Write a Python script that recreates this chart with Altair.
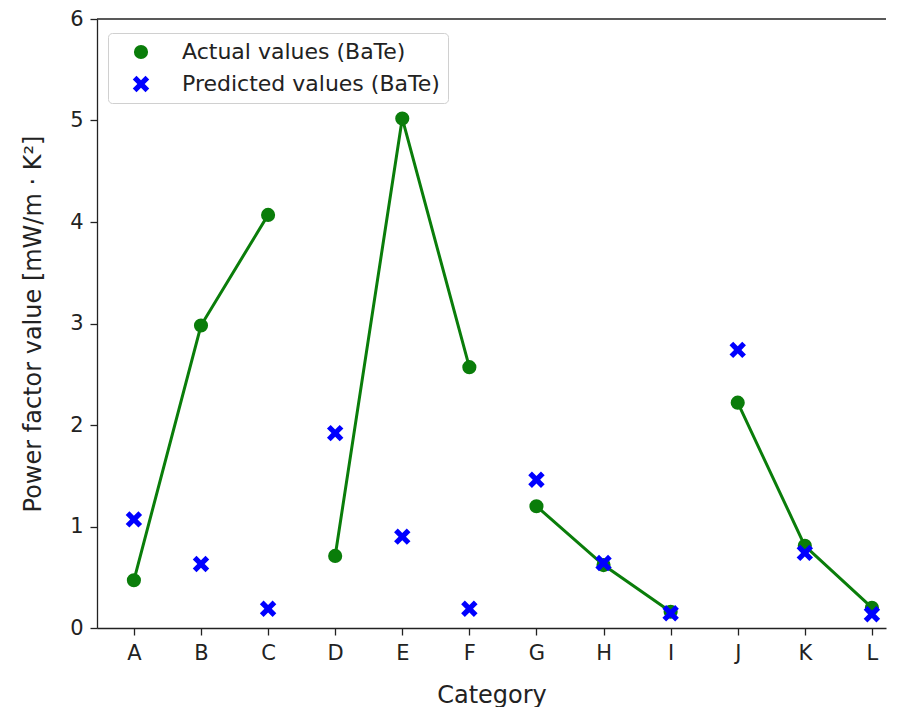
import altair as alt
import pandas as pd

categories = ["A", "B", "C", "D", "E", "F", "G", "H", "I", "J", "K", "L"]
actual = [0.47, 2.98, 4.07, 0.71, 5.02, 2.57, 1.20, 0.62, 0.16, 2.22, 0.81, 0.20]
predicted = [1.07, 0.63, 0.19, 1.92, 0.90, 0.19, 1.46, 0.64, 0.145, 2.74, 0.74, 0.135]
groups = ["g1", "g1", "g1", "g2", "g2", "g2", "g3", "g3", "g3", "g4", "g4", "g4"]

S_ACT = "Actual values (BaTe)"
S_PRED = "Predicted values (BaTe)"

line_df = pd.DataFrame({"idx": range(len(categories)), "cat": categories,
                        "value": actual, "grp": groups})
pts_df = pd.concat([
    pd.DataFrame({"idx": range(len(categories)), "value": actual, "series": S_ACT}),
    pd.DataFrame({"idx": range(len(categories)), "value": predicted, "series": S_PRED}),
])

X_PATH = ("M -1,-0.55 L -0.55,-1 L 0,-0.45 L 0.55,-1 L 1,-0.55 L 0.45,0 "
          "L 1,0.55 L 0.55,1 L 0,0.45 L -0.55,1 L -1,0.55 L -0.45,0 Z")

label_expr = "[" + ",".join(f"'{c}'" for c in categories) + "][datum.value]"

x_enc = alt.X("idx:Q",
              scale=alt.Scale(domain=[-0.55, 11.21], nice=False, zero=False),
              axis=alt.Axis(title="Category", values=list(range(12)),
                            labelExpr=label_expr, grid=False))
y_enc = alt.Y("value:Q",
              scale=alt.Scale(domain=[0, 6], nice=False),
              axis=alt.Axis(title="Power factor value [mW/m · K²]", format="d",
                            values=[0, 1, 2, 3, 4, 5, 6], grid=False))

lines = alt.Chart(line_df).mark_line(color="#0a7d0a", strokeWidth=3).encode(
    x=x_enc, y=y_enc, detail="grp:N")

dom = [S_ACT, S_PRED]
points = alt.Chart(pts_df).mark_point(filled=True, opacity=1).encode(
    x=x_enc, y=y_enc,
    color=alt.Color("series:N",
                    scale=alt.Scale(domain=dom, range=["#0a7d0a", "#0000FF"]),
                    legend=alt.Legend(title=None, orient="none", legendX=11, legendY=14,
                                      fillColor="white", strokeColor="#d0d0d0",
                                      cornerRadius=4, padding=8,
                                      labelFontSize=22, labelFont="DejaVu Sans",
                                      labelColor="#222222", labelLimit=400,
                                      symbolOffset=14, labelOffset=30,
                                      rowPadding=10, symbolStrokeWidth=0)),
    shape=alt.Shape("series:N",
                    scale=alt.Scale(domain=dom, range=["circle", X_PATH]),
                    legend=None),
    size=alt.Size("series:N", scale=alt.Scale(domain=dom, range=[200, 270]),
                  legend=None),
)

top_rule = alt.Chart(pd.DataFrame({"v": [6]})).mark_rule(color="#222222", strokeWidth=1.3).encode(
    y=alt.Y("v:Q", scale=alt.Scale(domain=[0, 6], nice=False)),
)

chart = alt.layer(lines, points, top_rule).properties(
    width=789, height=609,
    padding={"left": 13, "top": 0, "right": 0, "bottom": 0},
).configure_view(stroke=None).configure_axis(
    labelFont="DejaVu Sans", titleFont="DejaVu Sans",
    labelFontSize=21, titleFontSize=24, titleFontWeight="normal",
    labelColor="#222222", titleColor="#222222",
    domainColor="#222222", tickColor="#222222", domainWidth=1.3, tickWidth=1.3,
    tickSize=7, labelPadding=7,
).configure_axisX(titlePadding=20).configure_axisY(titlePadding=24)

chart.save("out.html", embed_options={"renderer": "svg", "actions": False})
